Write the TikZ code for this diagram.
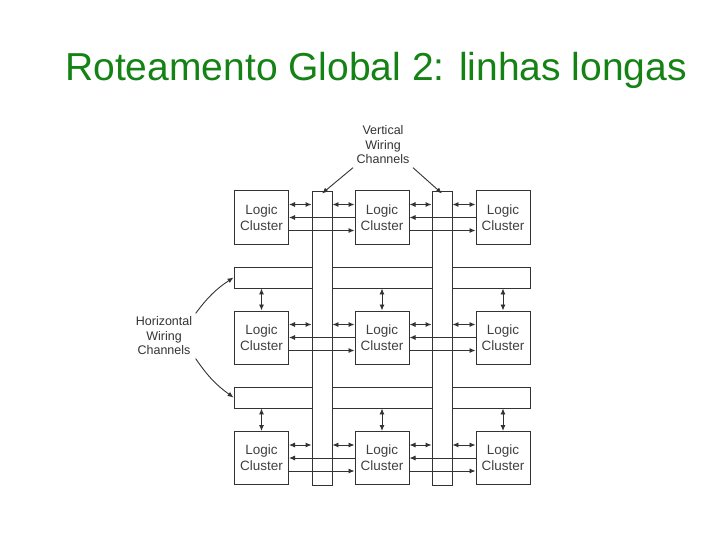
\documentclass[tikz,border=0pt]{standalone}
\usepackage{fontspec}
\setmainfont{Liberation Sans}
\usetikzlibrary{arrows.meta}
\definecolor{tgreen}{RGB}{20,130,20}
\begin{document}
\begin{tikzpicture}[x=1pt,y=-1pt,
  cl/.style={draw=black!80,fill=white,line width=1pt,minimum width=54pt,minimum height=53pt,inner sep=0,align=center,font=\fontsize{13.5}{16}\selectfont,text=black!75},
  ch/.style={draw=black!80,fill=white,line width=0.9pt},
  ar/.style={-{Latex[length=6pt,width=5pt]},line width=0.9pt,black!80},
  dar/.style={{Latex[length=6pt,width=5pt]}-{Latex[length=6pt,width=5pt]},line width=0.9pt,black!80},
  lbl/.style={align=center,font=\fontsize{12.5}{14.5}\selectfont,text=black!80}]
\useasboundingbox (0,0) rectangle (720,540);
\node[font=\fontsize{39}{44}\selectfont,text=tgreen] (title) at (376,70) {Roteamento Global 2: linhas longas};
\node[ch,minimum width=296pt,minimum height=21pt,inner sep=0] (h1) at (382,277.5) {};
\node[ch,minimum width=296pt,minimum height=21pt,inner sep=0] (h2) at (382,397.5) {};
\node[ch,minimum width=20pt,minimum height=294pt,inner sep=0] (v1) at (322,338) {};
\node[ch,minimum width=20pt,minimum height=294pt,inner sep=0] (v2) at (442,338) {};
\foreach \r/\y in {1/217.5,2/337.5,3/458}{
  \node[cl] (c1\r) at (261.5,\y) {Logic\\Cluster};
  \node[cl] (c2\r) at (382,\y) {Logic\\Cluster};
  \node[cl] (c3\r) at (503,\y) {Logic\\Cluster};
  \coordinate (a1) at ([yshift=13pt]c1\r.east);
  \coordinate (a2) at ([yshift=13pt]c2\r.west);
  \coordinate (a3) at ([yshift=13pt]c2\r.east);
  \coordinate (a4) at ([yshift=13pt]c3\r.west);
  \draw[dar] (a1) -- (v1.west |- a1);
  \draw[dar] (v1.east |- a1) -- (a2);
  \draw[dar] (a3) -- (v2.west |- a3);
  \draw[dar] (v2.east |- a3) -- (a4);
  \draw[ar] (c2\r.west) -- (c1\r.east);
  \draw[ar] (c3\r.west) -- (c2\r.east);
  \draw[ar] ([yshift=-13pt]c1\r.east) -- ([yshift=-13pt]c2\r.west);
  \draw[ar] ([yshift=-13pt]c2\r.east) -- ([yshift=-13pt]c3\r.west);
}
\foreach \c in {1,2,3}{
  \draw[dar] (c\c2.north) -- (c\c2.north |- h1.south);
  \draw[dar] (c\c3.north) -- (c\c3.north |- h2.south);
}
\node[lbl] (vl) at (383,145) {Vertical\\Wiring\\Channels};
\node[lbl] (hl) at (164,336) {Horizontal\\Wiring\\Channels};
\draw[ar] (vl.south west) -- ([yshift=-3pt]v1.north);
\draw[ar] (vl.south east) -- ([yshift=-3pt]v2.north);
\draw[ar] (hl.north east) to[bend left=10] (h1.west);
\draw[ar] (hl.south east) to[bend right=10] (h2.west);
\end{tikzpicture}
\end{document}
